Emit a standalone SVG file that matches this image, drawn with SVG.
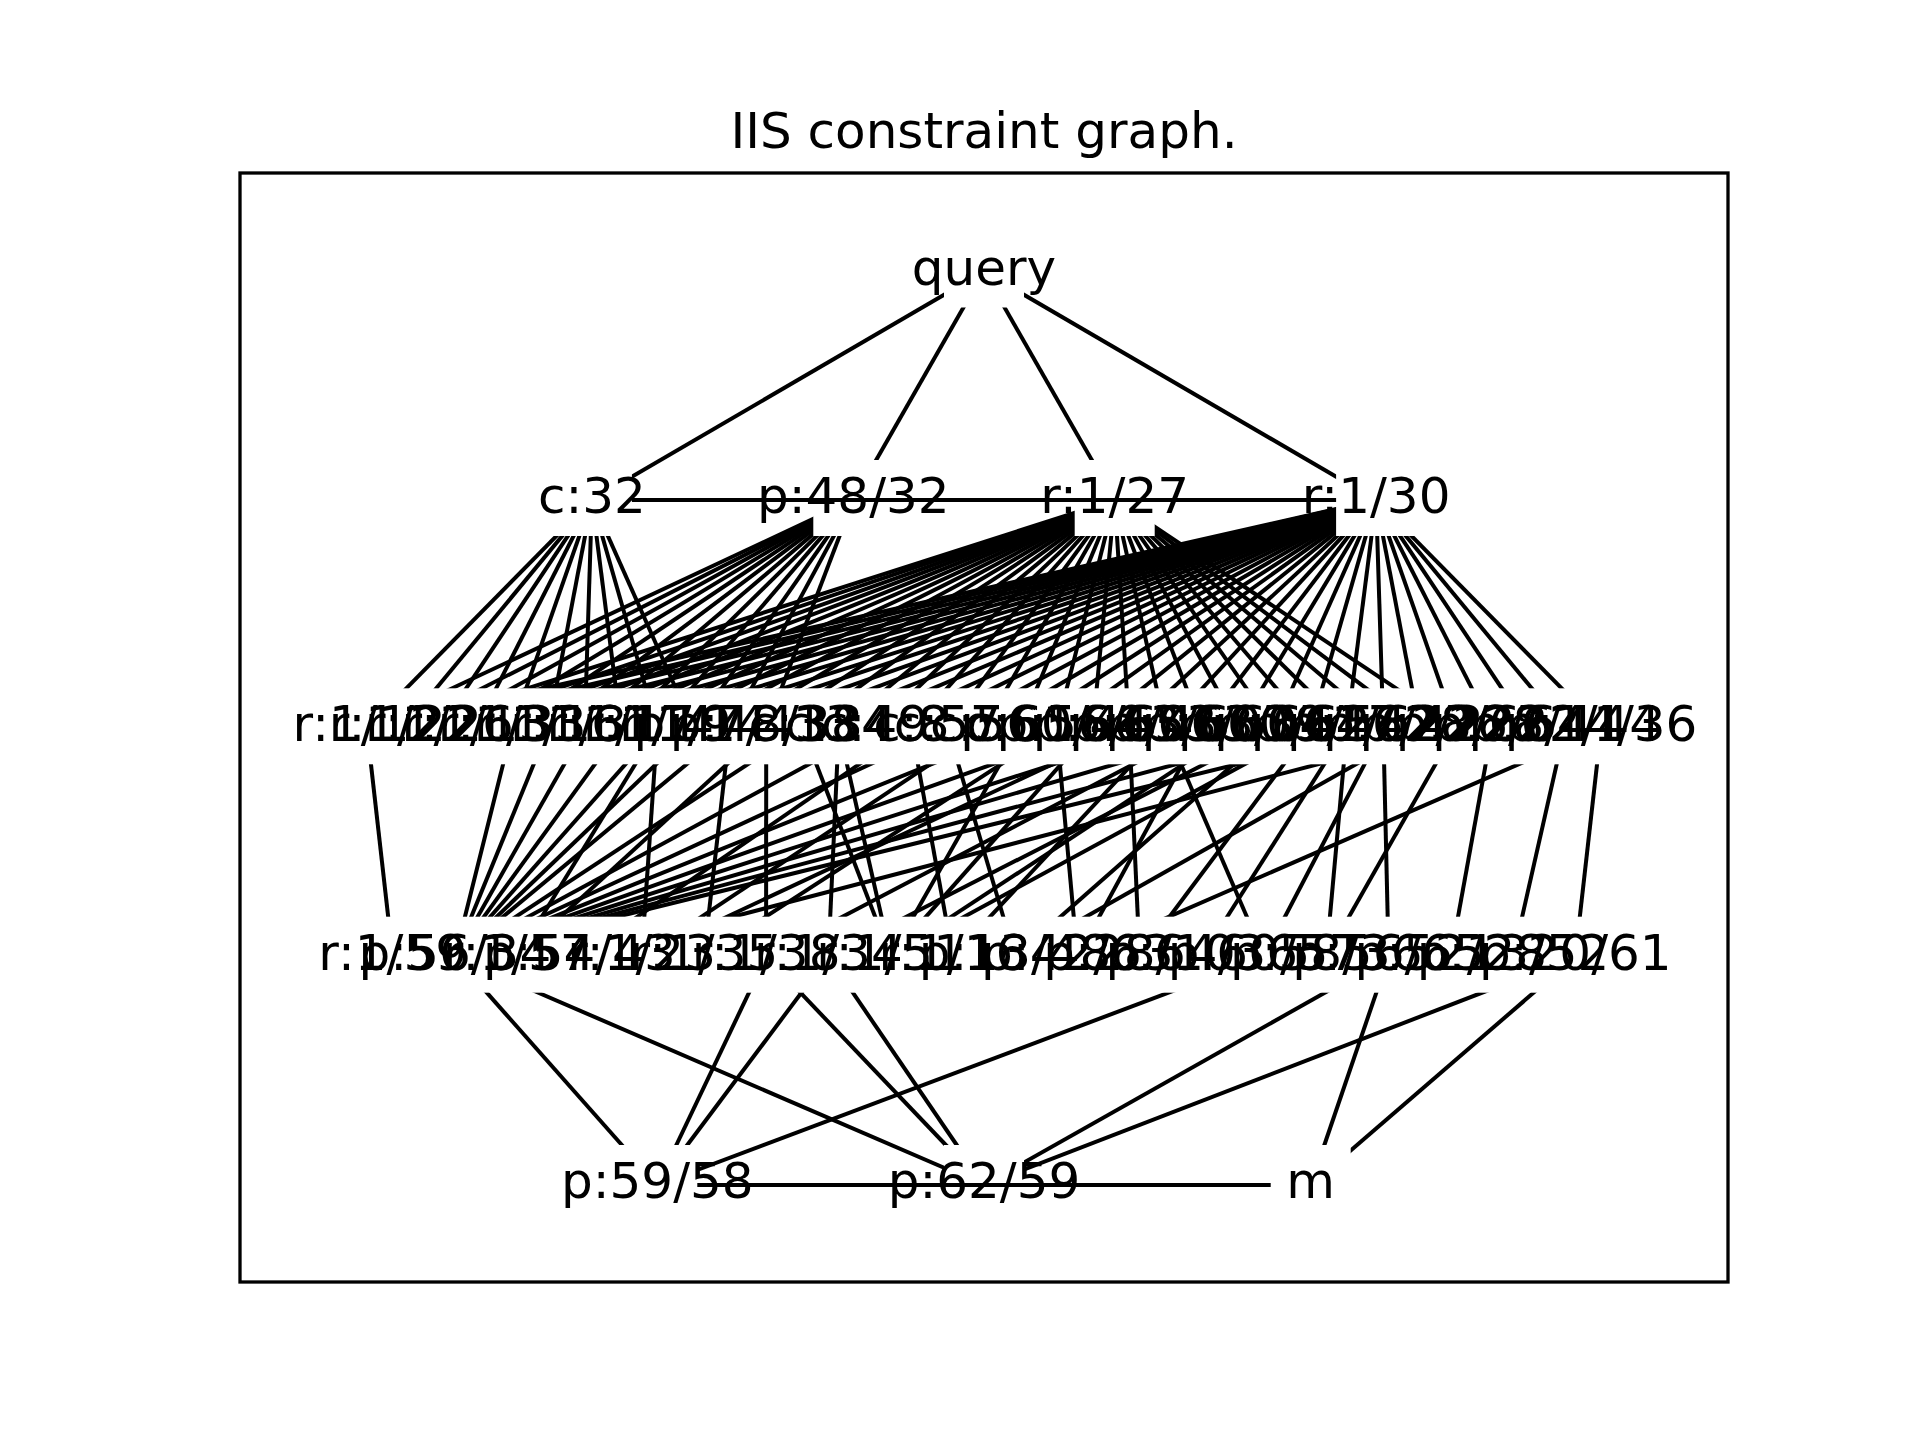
<svg xmlns="http://www.w3.org/2000/svg" width="1920" height="1440" viewBox="0 0 1920 1440">
  <style>
    .e { stroke: #000; stroke-width: 4; fill: none; }
    .lbl { font-family: "DejaVu Sans", "Liberation Sans", sans-serif; font-size: 50px; text-anchor: middle; fill: #000; }
    .title { font-family: "DejaVu Sans", "Liberation Sans", sans-serif; font-size: 50px; text-anchor: middle; fill: #000; }
  </style>
  <defs>
    <!-- square node markers hide the ends of the connectors -->
    <mask id="node-boxes" maskUnits="userSpaceOnUse" x="0" y="0" width="1920" height="1440">
      <rect width="1920" height="1440" fill="#fff"/>
      <g fill="#000">
        <rect x="944" y="231.5" width="80" height="76"/>
        <rect x="551.9" y="460" width="80" height="76"/>
        <rect x="813.3" y="460" width="80" height="76"/>
        <rect x="1074.7" y="460" width="80" height="76"/>
        <rect x="1336.1" y="460" width="80" height="76"/>
        <rect x="326.9" y="688.3" width="1314.2" height="76"/>
        <rect x="352.7" y="916.7" width="1262.6" height="76"/>
        <rect x="617.3" y="1145" width="80" height="76"/>
        <rect x="944" y="1145" width="80" height="76"/>
        <rect x="1270.7" y="1145" width="80" height="76"/>
      </g>
    </mask>
  </defs>

  <rect width="1920" height="1440" fill="#fff"/>
  <text class="title" x="984" y="148">IIS constraint graph.</text>
  <rect x="240" y="173" width="1488" height="1109" fill="none" stroke="#000" stroke-width="3.3"/>

  <g id="edges">
    <g class="e" mask="url(#node-boxes)">
      <!-- query -->
      <line x1="984" y1="271.5" x2="591.9" y2="500"/>
      <line x1="984" y1="271.5" x2="853.3" y2="500"/>
      <line x1="984" y1="271.5" x2="1114.7" y2="500"/>
      <line x1="984" y1="271.5" x2="1376.1" y2="500"/>
      <!-- c:32 -->
      <line x1="591.9" y1="500" x2="366.9" y2="728.3"/>
      <line x1="591.9" y1="500" x2="403.2" y2="728.3"/>
      <line x1="591.9" y1="500" x2="439.5" y2="728.3"/>
      <line x1="591.9" y1="500" x2="475.8" y2="728.3"/>
      <line x1="591.9" y1="500" x2="512.1" y2="728.3"/>
      <line x1="591.9" y1="500" x2="548.4" y2="728.3"/>
      <line x1="591.9" y1="500" x2="584.7" y2="728.3"/>
      <line x1="591.9" y1="500" x2="621.0" y2="728.3"/>
      <line x1="591.9" y1="500" x2="657.3" y2="728.3"/>
      <line x1="591.9" y1="500" x2="693.6" y2="728.3"/>
      <!-- p:48/32 -->
      <line x1="853.3" y1="500" x2="366.9" y2="728.3"/>
      <line x1="853.3" y1="500" x2="403.2" y2="728.3"/>
      <line x1="853.3" y1="500" x2="439.5" y2="728.3"/>
      <line x1="853.3" y1="500" x2="475.8" y2="728.3"/>
      <line x1="853.3" y1="500" x2="512.1" y2="728.3"/>
      <line x1="853.3" y1="500" x2="548.4" y2="728.3"/>
      <line x1="853.3" y1="500" x2="584.7" y2="728.3"/>
      <line x1="853.3" y1="500" x2="621.0" y2="728.3"/>
      <line x1="853.3" y1="500" x2="657.3" y2="728.3"/>
      <line x1="853.3" y1="500" x2="693.6" y2="728.3"/>
      <line x1="853.3" y1="500" x2="729.9" y2="728.3"/>
      <line x1="853.3" y1="500" x2="766.2" y2="728.3"/>
      <!-- r:1/27 -->
      <line x1="1114.7" y1="500" x2="403.2" y2="728.3"/>
      <line x1="1114.7" y1="500" x2="439.5" y2="728.3"/>
      <line x1="1114.7" y1="500" x2="475.8" y2="728.3"/>
      <line x1="1114.7" y1="500" x2="512.1" y2="728.3"/>
      <line x1="1114.7" y1="500" x2="548.4" y2="728.3"/>
      <line x1="1114.7" y1="500" x2="584.7" y2="728.3"/>
      <line x1="1114.7" y1="500" x2="621.0" y2="728.3"/>
      <line x1="1114.7" y1="500" x2="657.3" y2="728.3"/>
      <line x1="1114.7" y1="500" x2="693.6" y2="728.3"/>
      <line x1="1114.7" y1="500" x2="729.9" y2="728.3"/>
      <line x1="1114.7" y1="500" x2="766.2" y2="728.3"/>
      <line x1="1114.7" y1="500" x2="802.5" y2="728.3"/>
      <line x1="1114.7" y1="500" x2="838.8" y2="728.3"/>
      <line x1="1114.7" y1="500" x2="875.1" y2="728.3"/>
      <line x1="1114.7" y1="500" x2="911.4" y2="728.3"/>
      <line x1="1114.7" y1="500" x2="947.7" y2="728.3"/>
      <line x1="1114.7" y1="500" x2="984.0" y2="728.3"/>
      <line x1="1114.7" y1="500" x2="1020.3" y2="728.3"/>
      <line x1="1114.7" y1="500" x2="1056.6" y2="728.3"/>
      <line x1="1114.7" y1="500" x2="1092.9" y2="728.3"/>
      <line x1="1114.7" y1="500" x2="1129.2" y2="728.3"/>
      <line x1="1114.7" y1="500" x2="1165.5" y2="728.3"/>
      <line x1="1114.7" y1="500" x2="1201.8" y2="728.3"/>
      <line x1="1114.7" y1="500" x2="1238.1" y2="728.3"/>
      <line x1="1114.7" y1="500" x2="1274.4" y2="728.3"/>
      <line x1="1114.7" y1="500" x2="1310.7" y2="728.3"/>
      <line x1="1114.7" y1="500" x2="1347.0" y2="728.3"/>
      <line x1="1114.7" y1="500" x2="1383.3" y2="728.3"/>
      <line x1="1114.7" y1="500" x2="1419.6" y2="728.3"/>
      <line x1="1114.7" y1="500" x2="1455.9" y2="728.3"/>
      <!-- r:1/30 -->
      <line x1="1376.1" y1="500" x2="366.9" y2="728.3"/>
      <line x1="1376.1" y1="500" x2="403.2" y2="728.3"/>
      <line x1="1376.1" y1="500" x2="439.5" y2="728.3"/>
      <line x1="1376.1" y1="500" x2="475.8" y2="728.3"/>
      <line x1="1376.1" y1="500" x2="512.1" y2="728.3"/>
      <line x1="1376.1" y1="500" x2="548.4" y2="728.3"/>
      <line x1="1376.1" y1="500" x2="584.7" y2="728.3"/>
      <line x1="1376.1" y1="500" x2="621.0" y2="728.3"/>
      <line x1="1376.1" y1="500" x2="657.3" y2="728.3"/>
      <line x1="1376.1" y1="500" x2="693.6" y2="728.3"/>
      <line x1="1376.1" y1="500" x2="729.9" y2="728.3"/>
      <line x1="1376.1" y1="500" x2="766.2" y2="728.3"/>
      <line x1="1376.1" y1="500" x2="802.5" y2="728.3"/>
      <line x1="1376.1" y1="500" x2="838.8" y2="728.3"/>
      <line x1="1376.1" y1="500" x2="875.1" y2="728.3"/>
      <line x1="1376.1" y1="500" x2="911.4" y2="728.3"/>
      <line x1="1376.1" y1="500" x2="947.7" y2="728.3"/>
      <line x1="1376.1" y1="500" x2="984.0" y2="728.3"/>
      <line x1="1376.1" y1="500" x2="1020.3" y2="728.3"/>
      <line x1="1376.1" y1="500" x2="1056.6" y2="728.3"/>
      <line x1="1376.1" y1="500" x2="1092.9" y2="728.3"/>
      <line x1="1376.1" y1="500" x2="1129.2" y2="728.3"/>
      <line x1="1376.1" y1="500" x2="1165.5" y2="728.3"/>
      <line x1="1376.1" y1="500" x2="1201.8" y2="728.3"/>
      <line x1="1376.1" y1="500" x2="1238.1" y2="728.3"/>
      <line x1="1376.1" y1="500" x2="1274.4" y2="728.3"/>
      <line x1="1376.1" y1="500" x2="1310.7" y2="728.3"/>
      <line x1="1376.1" y1="500" x2="1347.0" y2="728.3"/>
      <line x1="1376.1" y1="500" x2="1383.3" y2="728.3"/>
      <line x1="1376.1" y1="500" x2="1419.6" y2="728.3"/>
      <line x1="1376.1" y1="500" x2="1455.9" y2="728.3"/>
      <line x1="1376.1" y1="500" x2="1492.2" y2="728.3"/>
      <line x1="1376.1" y1="500" x2="1528.5" y2="728.3"/>
      <line x1="1376.1" y1="500" x2="1564.8" y2="728.3"/>
      <line x1="1376.1" y1="500" x2="1601.1" y2="728.3"/>
      <!-- third row to fourth row -->
      <line x1="366.9" y1="728.3" x2="392.7" y2="956.7"/>
      <line x1="512.1" y1="728.3" x2="454.9" y2="956.7"/>
      <line x1="548.4" y1="728.3" x2="454.9" y2="956.7"/>
      <line x1="584.7" y1="728.3" x2="454.9" y2="956.7"/>
      <line x1="621.0" y1="728.3" x2="454.9" y2="956.7"/>
      <line x1="657.3" y1="728.3" x2="454.9" y2="956.7"/>
      <line x1="693.6" y1="728.3" x2="454.9" y2="956.7"/>
      <line x1="729.9" y1="728.3" x2="454.9" y2="956.7"/>
      <line x1="802.5" y1="728.3" x2="454.9" y2="956.7"/>
      <line x1="875.1" y1="728.3" x2="454.9" y2="956.7"/>
      <line x1="947.7" y1="728.3" x2="454.9" y2="956.7"/>
      <line x1="1020.3" y1="728.3" x2="454.9" y2="956.7"/>
      <line x1="1092.9" y1="728.3" x2="454.9" y2="956.7"/>
      <line x1="1165.5" y1="728.3" x2="454.9" y2="956.7"/>
      <line x1="1238.1" y1="728.3" x2="454.9" y2="956.7"/>
      <line x1="1310.7" y1="728.3" x2="454.9" y2="956.7"/>
      <line x1="1383.3" y1="728.3" x2="454.9" y2="956.7"/>
      <line x1="657.3" y1="728.3" x2="517.2" y2="956.7"/>
      <line x1="766.2" y1="728.3" x2="517.2" y2="956.7"/>
      <line x1="911.4" y1="728.3" x2="579.4" y2="956.7"/>
      <line x1="1455.9" y1="728.3" x2="579.4" y2="956.7"/>
      <line x1="657.3" y1="728.3" x2="641.6" y2="956.7"/>
      <line x1="984.0" y1="728.3" x2="641.6" y2="956.7"/>
      <line x1="1129.2" y1="728.3" x2="641.6" y2="956.7"/>
      <line x1="729.9" y1="728.3" x2="703.9" y2="956.7"/>
      <line x1="1056.6" y1="728.3" x2="703.9" y2="956.7"/>
      <line x1="766.2" y1="728.3" x2="766.1" y2="956.7"/>
      <line x1="1201.8" y1="728.3" x2="766.1" y2="956.7"/>
      <line x1="838.8" y1="728.3" x2="828.4" y2="956.7"/>
      <line x1="1274.4" y1="728.3" x2="828.4" y2="956.7"/>
      <line x1="802.5" y1="728.3" x2="890.6" y2="956.7"/>
      <line x1="838.8" y1="728.3" x2="890.6" y2="956.7"/>
      <line x1="1020.3" y1="728.3" x2="890.6" y2="956.7"/>
      <line x1="1092.9" y1="728.3" x2="890.6" y2="956.7"/>
      <line x1="1238.1" y1="728.3" x2="890.6" y2="956.7"/>
      <line x1="1310.7" y1="728.3" x2="890.6" y2="956.7"/>
      <line x1="911.4" y1="728.3" x2="952.9" y2="956.7"/>
      <line x1="1165.5" y1="728.3" x2="952.9" y2="956.7"/>
      <line x1="947.7" y1="728.3" x2="1015.1" y2="956.7"/>
      <line x1="1274.4" y1="728.3" x2="1015.1" y2="956.7"/>
      <line x1="1419.6" y1="728.3" x2="1015.1" y2="956.7"/>
      <line x1="1056.6" y1="728.3" x2="1077.4" y2="956.7"/>
      <line x1="1201.8" y1="728.3" x2="1077.4" y2="956.7"/>
      <line x1="1601.1" y1="728.3" x2="1077.4" y2="956.7"/>
      <line x1="1129.2" y1="728.3" x2="1139.6" y2="956.7"/>
      <line x1="1310.7" y1="728.3" x2="1139.6" y2="956.7"/>
      <line x1="1347.0" y1="728.3" x2="1201.8" y2="956.7"/>
      <line x1="1165.5" y1="728.3" x2="1264.1" y2="956.7"/>
      <line x1="1383.3" y1="728.3" x2="1264.1" y2="956.7"/>
      <line x1="1347.0" y1="728.3" x2="1326.3" y2="956.7"/>
      <line x1="1455.9" y1="728.3" x2="1326.3" y2="956.7"/>
      <line x1="1383.3" y1="728.3" x2="1388.6" y2="956.7"/>
      <line x1="1492.2" y1="728.3" x2="1450.8" y2="956.7"/>
      <line x1="1564.8" y1="728.3" x2="1513.1" y2="956.7"/>
      <line x1="1601.1" y1="728.3" x2="1575.3" y2="956.7"/>
      <!-- fourth row to bottom row -->
      <line x1="454.9" y1="956.7" x2="657.3" y2="1185"/>
      <line x1="454.9" y1="956.7" x2="984" y2="1185"/>
      <line x1="766.1" y1="956.7" x2="657.3" y2="1185"/>
      <line x1="828.4" y1="956.7" x2="657.3" y2="1185"/>
      <line x1="766.1" y1="956.7" x2="984" y2="1185"/>
      <line x1="828.4" y1="956.7" x2="984" y2="1185"/>
      <line x1="1264.1" y1="956.7" x2="657.3" y2="1185"/>
      <line x1="1388.6" y1="956.7" x2="984" y2="1185"/>
      <line x1="1388.6" y1="956.7" x2="1310.7" y2="1185"/>
      <line x1="1575.3" y1="956.7" x2="984" y2="1185"/>
      <line x1="1575.3" y1="956.7" x2="1310.7" y2="1185"/>
    </g>
    <!-- same-row links, drawn over the labels -->
    <line class="e" x1="631.9" y1="500" x2="1336.1" y2="500"/>
    <line class="e" x1="697.3" y1="1185" x2="1270.7" y2="1185"/>
  </g>

  <g id="nodes">
    <g id="n-query"><text class="lbl" x="984" y="284.5">query</text></g>

    <g id="n-c32"><text class="lbl" x="591.9" y="513">c:32</text></g>
    <g id="n-p48-32"><text class="lbl" x="853.3" y="513">p:48/32</text></g>
    <g id="n-r1-27"><text class="lbl" x="1114.7" y="513">r:1/27</text></g>
    <g id="n-r1-30"><text class="lbl" x="1376.1" y="513">r:1/30</text></g>

    <g id="n-r1-12"><text class="lbl" x="366.9" y="741.3">r:1/12</text></g>
    <g id="n-r1-22"><text class="lbl" x="403.2" y="741.3">r:1/22</text></g>
    <g id="n-r1-26"><text class="lbl" x="439.5" y="741.3">r:1/26</text></g>
    <g id="n-r1-13"><text class="lbl" x="475.8" y="741.3">r:1/13</text></g>
    <g id="n-r1-33"><text class="lbl" x="512.1" y="741.3">r:1/33</text></g>
    <g id="n-r1-16"><text class="lbl" x="548.4" y="741.3">r:1/16</text></g>
    <g id="n-r1-31"><text class="lbl" x="584.7" y="741.3">r:1/31</text></g>
    <g id="n-r1-17"><text class="lbl" x="621.0" y="741.3">r:1/17</text></g>
    <g id="n-r1-19"><text class="lbl" x="657.3" y="741.3">r:1/19</text></g>
    <g id="n-r1-14"><text class="lbl" x="693.6" y="741.3">r:1/14</text></g>
    <g id="n-p47-43"><text class="lbl" x="729.9" y="741.3">p:47/43</text></g>
    <g id="n-p48-38"><text class="lbl" x="766.2" y="741.3">p:48/38</text></g>
    <g id="n-c13"><text class="lbl" x="802.5" y="741.3">c:13</text></g>
    <g id="n-c34"><text class="lbl" x="838.8" y="741.3">c:34</text></g>
    <g id="n-c49"><text class="lbl" x="875.1" y="741.3">c:49</text></g>
    <g id="n-c8"><text class="lbl" x="911.4" y="741.3">c:8</text></g>
    <g id="n-c57"><text class="lbl" x="947.7" y="741.3">c:57</text></g>
    <g id="n-c56"><text class="lbl" x="984.0" y="741.3">c:56</text></g>
    <g id="n-c61"><text class="lbl" x="1020.3" y="741.3">c:61</text></g>
    <g id="n-p60-46"><text class="lbl" x="1056.6" y="741.3">p:60/46</text></g>
    <g id="n-p56-60"><text class="lbl" x="1092.9" y="741.3">p:56/60</text></g>
    <g id="n-p66-46"><text class="lbl" x="1129.2" y="741.3">p:66/46</text></g>
    <g id="n-p43-60"><text class="lbl" x="1165.5" y="741.3">p:43/60</text></g>
    <g id="n-p53-60"><text class="lbl" x="1201.8" y="741.3">p:53/60</text></g>
    <g id="n-p63-66"><text class="lbl" x="1238.1" y="741.3">p:63/66</text></g>
    <g id="n-p60-62"><text class="lbl" x="1274.4" y="741.3">p:60/62</text></g>
    <g id="n-p39-54"><text class="lbl" x="1310.7" y="741.3">p:39/54</text></g>
    <g id="n-p41-62"><text class="lbl" x="1347.0" y="741.3">p:41/62</text></g>
    <g id="n-p47-42"><text class="lbl" x="1383.3" y="741.3">p:47/42</text></g>
    <g id="n-p62-22"><text class="lbl" x="1419.6" y="741.3">p:62/22</text></g>
    <g id="n-p28-66"><text class="lbl" x="1455.9" y="741.3">p:28/66</text></g>
    <g id="n-p26-64"><text class="lbl" x="1492.2" y="741.3">p:26/64</text></g>
    <g id="n-p28-41"><text class="lbl" x="1528.5" y="741.3">p:28/41</text></g>
    <g id="n-p22-44"><text class="lbl" x="1564.8" y="741.3">p:22/44</text></g>
    <g id="n-p14-36"><text class="lbl" x="1601.1" y="741.3">p:14/36</text></g>

    <g id="n-r1-59"><text class="lbl" x="392.7" y="969.7">r:1/59</text></g>
    <g id="n-p56-34"><text class="lbl" x="454.9" y="969.7">p:56/34</text></g>
    <g id="n-r1-57"><text class="lbl" x="517.2" y="969.7">r:1/57</text></g>
    <g id="n-p54-43"><text class="lbl" x="579.4" y="969.7">p:54/43</text></g>
    <g id="n-r1-23"><text class="lbl" x="641.6" y="969.7">r:1/23</text></g>
    <g id="n-r1-35"><text class="lbl" x="703.9" y="969.7">r:1/35</text></g>
    <g id="n-r1-38"><text class="lbl" x="766.1" y="969.7">r:1/38</text></g>
    <g id="n-r1-34"><text class="lbl" x="828.4" y="969.7">r:1/34</text></g>
    <g id="n-r1-51"><text class="lbl" x="890.6" y="969.7">r:1/51</text></g>
    <g id="n-r1-16b"><text class="lbl" x="952.9" y="969.7">r:1/16</text></g>
    <g id="n-p13-48"><text class="lbl" x="1015.1" y="969.7">p:13/48</text></g>
    <g id="n-p42-63"><text class="lbl" x="1077.4" y="969.7">p:42/63</text></g>
    <g id="n-p28-10"><text class="lbl" x="1139.6" y="969.7">p:28/10</text></g>
    <g id="n-p64-36"><text class="lbl" x="1201.8" y="969.7">p:64/36</text></g>
    <g id="n-p60-57"><text class="lbl" x="1264.1" y="969.7">p:60/57</text></g>
    <g id="n-p58-36"><text class="lbl" x="1326.3" y="969.7">p:58/36</text></g>
    <g id="n-p56-65"><text class="lbl" x="1388.6" y="969.7">p:56/65</text></g>
    <g id="n-p52-28"><text class="lbl" x="1450.8" y="969.7">p:52/28</text></g>
    <g id="n-p13-52"><text class="lbl" x="1513.1" y="969.7">p:13/52</text></g>
    <g id="n-p20-61"><text class="lbl" x="1575.3" y="969.7">p:20/61</text></g>

    <g id="n-p59-58"><text class="lbl" x="657.3" y="1198">p:59/58</text></g>
    <g id="n-p62-59"><text class="lbl" x="984" y="1198">p:62/59</text></g>
    <g id="n-m"><text class="lbl" x="1310.7" y="1198">m</text></g>
  </g>
</svg>
